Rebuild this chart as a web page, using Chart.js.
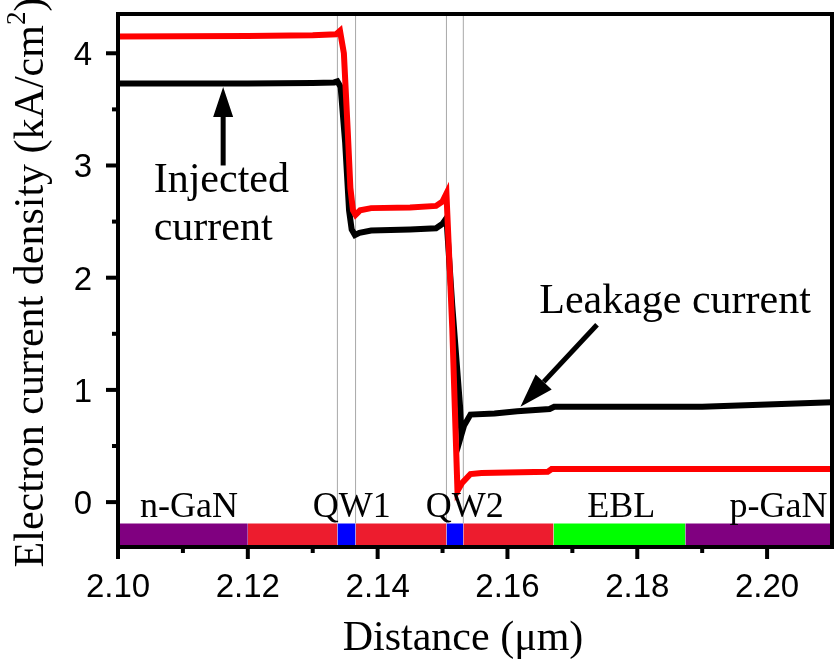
<!DOCTYPE html>
<html>
<head>
<meta charset="utf-8">
<script src="https://cdn.jsdelivr.net/npm/chart.js@4.4.0/dist/chart.umd.min.js"></script>
<style>
  html, body { margin: 0; padding: 0; background: #fff; }
  #wrap { width: 837px; height: 662px; }
</style>
</head>
<body>
<div id="wrap"><canvas id="plot"></canvas></div>
<script>
// distance (um) / electron current density (kA/cm2)
let distBlack = [2.100, 2.120, 2.130, 2.1333, 2.1338, 2.1343, 2.1350, 2.1356, 2.1360, 2.1365, 2.1372, 2.1390, 2.1450, 2.1490, 2.1500, 2.1506,
  2.1515, 2.1527, 2.1529, 2.1533, 2.1543, 2.1580, 2.1615, 2.1665, 2.1672, 2.1800, 2.1900, 2.2000, 2.2100];
let currentBlack = [3.73, 3.73, 3.735, 3.74, 3.75, 3.70, 3.20, 2.60, 2.43, 2.38, 2.40, 2.42, 2.43, 2.44, 2.48, 2.53,
  1.75, 0.85, 0.60, 0.68, 0.78, 0.79, 0.81, 0.83, 0.85, 0.85, 0.85, 0.87, 0.89];

let distRed = [2.100, 2.120, 2.130, 2.1336, 2.1342, 2.1348, 2.1354, 2.1358, 2.1362, 2.1366, 2.1373, 2.1390, 2.1450, 2.1490, 2.1500, 2.1506,
  2.1515, 2.1523, 2.1530, 2.1543, 2.1560, 2.1600, 2.1662, 2.1668, 2.1800, 2.1950, 2.2100];
let currentRed = [4.15, 4.155, 4.16, 4.17, 4.20, 4.00, 3.30, 2.80, 2.60, 2.56, 2.60, 2.62, 2.625, 2.64, 2.68, 2.75,
  1.55, 0.10, 0.17, 0.25, 0.26, 0.265, 0.27, 0.295, 0.295, 0.295, 0.295];

// layer stack drawn under the curves
let layerNames = ["n-GaN", "barrier", "QW1", "barrier", "QW2", "barrier", "EBL", "p-GaN"];
let layerStart = [2.100, 2.120, 2.1338, 2.1366, 2.1506, 2.1532, 2.1671, 2.1874];
let layerEnd   = [2.120, 2.1338, 2.1366, 2.1506, 2.1532, 2.1671, 2.1874, 2.210];
let layerColors = ["#800080", "#ed1c2e", "#0000ff", "#ed1c2e", "#0000ff", "#ed1c2e", "#00ff00", "#800080"];
let layerTop = -0.19;

// thin grey lines at the well edges
let wellEdges = [2.1338, 2.1366, 2.1506, 2.1532];

// labels written above the layer bar
let labelTexts = ["n-GaN", "QW1", "QW2", "EBL", "p-GaN"];
let labelX = [2.1034, 2.1300, 2.1474, 2.1723, 2.1942];
let labelY = -0.13;

let xMajor = [2.10, 2.12, 2.14, 2.16, 2.18, 2.20];
let xMinor = [2.11, 2.13, 2.15, 2.17, 2.19];
let yMajor = [0, 1, 2, 3, 4];
let yMinor = [0.5, 1.5, 2.5, 3.5];

let toPoints = (xs, ys) => xs.map((x, i) => ({ x: x, y: ys[i] }));

let datasets = [];
datasets.push({ data: toPoints(distRed, currentRed), borderColor: "#ff0000", borderWidth: 6, pointRadius: 0, tension: 0, fill: false });
datasets.push({ data: toPoints(distBlack, currentBlack), borderColor: "#000000", borderWidth: 6, pointRadius: 0, tension: 0, fill: false });
wellEdges.forEach((e) => {
  datasets.push({ data: [{ x: e, y: layerTop }, { x: e, y: 4.35 }], borderColor: "#a8a8a8", borderWidth: 1, pointRadius: 0, fill: false });
});
layerStart.forEach((s, i) => {
  datasets.push({
    label: layerNames[i],
    data: [{ x: s, y: layerTop }, { x: layerEnd[i], y: layerTop }],
    borderWidth: 0, borderColor: layerColors[i], backgroundColor: layerColors[i],
    pointRadius: 0, fill: "start"
  });
});

let arrow = (ctx, x1, y1, x2, y2, len, half) => {
  let ang = Math.atan2(y2 - y1, x2 - x1);
  let bx = x2 - len * Math.cos(ang), by = y2 - len * Math.sin(ang);
  ctx.lineWidth = 5;
  ctx.beginPath(); ctx.moveTo(x1, y1); ctx.lineTo(bx, by); ctx.stroke();
  ctx.beginPath();
  ctx.moveTo(x2, y2);
  ctx.lineTo(bx + half * Math.sin(ang), by - half * Math.cos(ang));
  ctx.lineTo(bx - half * Math.sin(ang), by + half * Math.cos(ang));
  ctx.closePath(); ctx.fill();
};

let extras = {
  id: "extras",
  afterDraw(chart) {
    let ctx = chart.ctx, a = chart.chartArea, xs = chart.scales.x, ys = chart.scales.y;
    ctx.save();
    ctx.strokeStyle = "#000"; ctx.fillStyle = "#000"; ctx.lineWidth = 4;
    // tick marks, outside
    let tick = (x1, y1, x2, y2) => { ctx.beginPath(); ctx.moveTo(x1, y1); ctx.lineTo(x2, y2); ctx.stroke(); };
    xMajor.forEach((v) => { let p = xs.getPixelForValue(v); tick(p, a.bottom, p, a.bottom + 12); });
    xMinor.forEach((v) => { let p = xs.getPixelForValue(v); tick(p, a.bottom, p, a.bottom + 6); });
    yMajor.forEach((v) => { let p = ys.getPixelForValue(v); tick(a.left, p, a.left - 12, p); });
    yMinor.forEach((v) => { let p = ys.getPixelForValue(v); tick(a.left, p, a.left - 6, p); });
    // frame
    ctx.strokeRect(a.left, a.top, a.right - a.left, a.bottom - a.top);

    // tick labels
    ctx.font = "33px 'Liberation Sans'";
    ctx.textBaseline = "alphabetic";
    ctx.textAlign = "center";
    xMajor.forEach((v) => ctx.fillText(v.toFixed(2), xs.getPixelForValue(v), a.bottom + 50));
    ctx.textAlign = "right";
    yMajor.forEach((v) => ctx.fillText(String(v), a.left - 26, ys.getPixelForValue(v) + 12));

    // axis titles
    ctx.font = "42px 'Liberation Serif'";
    ctx.textAlign = "center";
    ctx.fillText("Distance (\u03bcm)", (a.left + a.right) / 2 - 12, a.bottom + 103);
    ctx.save();
    ctx.translate(43, (a.top + a.bottom) / 2 + 2);
    ctx.rotate(-Math.PI / 2);
    let main = "Electron current density (kA/cm";
    ctx.font = "42px 'Liberation Serif'";
    let wMain = ctx.measureText(main).width;
    let wClose = ctx.measureText(")").width;
    ctx.font = "27px 'Liberation Serif'";
    let wSup = ctx.measureText("2").width;
    let start = -(wMain + wSup + wClose) / 2;
    ctx.textAlign = "left";
    ctx.font = "42px 'Liberation Serif'";
    ctx.fillText(main, start, 0);
    ctx.fillText(")", start + wMain + wSup, 0);
    ctx.font = "27px 'Liberation Serif'";
    ctx.fillText("2", start + wMain, -18);
    ctx.restore();

    // layer names
    ctx.font = "36px 'Liberation Serif'";
    ctx.textAlign = "left";
    labelTexts.forEach((t, i) => ctx.fillText(t, xs.getPixelForValue(labelX[i]), ys.getPixelForValue(labelY)));
    // annotations
    ctx.font = "42px 'Liberation Serif'";
    ctx.fillText("Injected", xs.getPixelForValue(2.1055), ys.getPixelForValue(2.76));
    ctx.fillText("current", xs.getPixelForValue(2.1055), ys.getPixelForValue(2.335));
    ctx.fillText("Leakage current", xs.getPixelForValue(2.1649), ys.getPixelForValue(1.685));
    arrow(ctx, xs.getPixelForValue(2.1162), ys.getPixelForValue(3.00), xs.getPixelForValue(2.1162), ys.getPixelForValue(3.70), 30, 10);
    arrow(ctx, xs.getPixelForValue(2.1738), ys.getPixelForValue(1.58), xs.getPixelForValue(2.1620), ys.getPixelForValue(0.85), 34, 11);
    ctx.restore();
  }
};

let plotRef = document.getElementById("plot");
let config = {
  type: "line",
  data: { datasets: datasets },
  options: {
    responsive: true,
    maintainAspectRatio: false,
    animation: false,
    layout: { padding: { top: 14, right: 5, left: 0, bottom: 0 } },
    plugins: { legend: { display: false }, tooltip: { enabled: false } },
    scales: {
      x: {
        type: "linear", min: 2.10, max: 2.21,
        grid: { display: false, drawTicks: false }, border: { display: false },
        ticks: { display: false, stepSize: 0.02 },
        title: { display: false },
        afterFit: (s) => { s.height = 115; s.paddingLeft = 0; s.paddingRight = 0; }
      },
      y: {
        type: "linear", min: -0.4, max: 4.35,
        grid: { display: false, drawTicks: false }, border: { display: false },
        ticks: { display: false, stepSize: 0.5 },
        title: { display: false },
        afterFit: (s) => { s.width = 118; s.paddingTop = 0; s.paddingBottom = 0; }
      }
    }
  },
  plugins: [extras]
};
let chart = new Chart(plotRef, config);
</script>
</body>
</html>
